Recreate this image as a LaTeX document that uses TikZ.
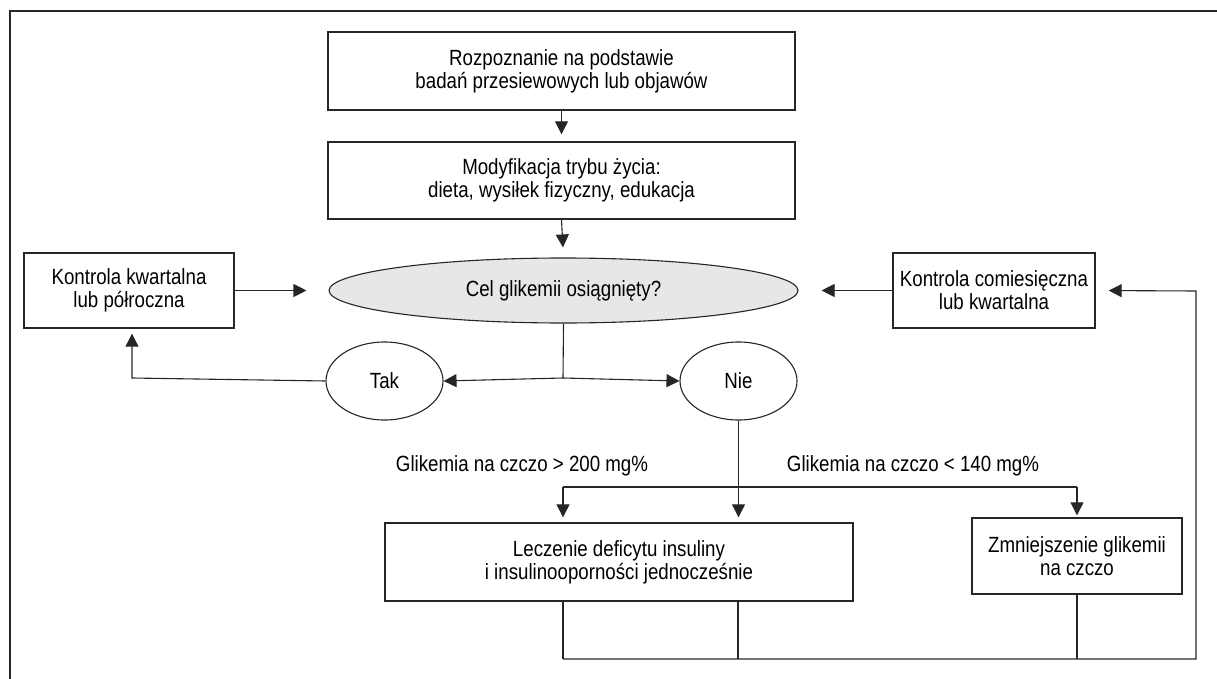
\documentclass[tikz,border=0pt]{standalone}
\usepackage{fontspec}
\setmainfont{Liberation Sans}[FakeStretch=0.85]
\usetikzlibrary{arrows.meta,shapes.geometric}
\definecolor{ln}{HTML}{262626}
\definecolor{ellfill}{HTML}{E6E7E8}
\begin{document}
\begin{tikzpicture}[x=1pt,y=-1pt,
  every node/.style={font=\fontsize{22}{23}\selectfont, text=black, align=center, inner sep=0pt},
  box/.style={draw=ln, line width=1.4pt, rectangle},
  oval/.style={draw=ln, line width=1.1pt, ellipse},
  conn/.style={draw=ln, line width=1.1pt},
  arr/.style={conn, -{Triangle[length=13pt,width=13pt]}},
]
\useasboundingbox (0,0) rectangle (1217,679);
\draw[ln, line width=1.8pt] (10,679) -- (10,11) -- (1217,11);

\node[box, minimum width=467pt, minimum height=78pt] (top) at (561.5,71) {Rozpoznanie na podstawie\\badań przesiewowych lub objawów};
\node[box, minimum width=467pt, minimum height=77pt] (mod) at (561.5,180.5) {Modyfikacja trybu życia:\\dieta, wysiłek fizyczny, edukacja};
\node[oval, fill=ellfill, minimum width=469pt, minimum height=65pt] (cel) at (563.5,290.5) {Cel glikemii osiągnięty?};
\node[box, minimum width=210pt, minimum height=75pt] (kk) at (129,290.5) {Kontrola kwartalna\\lub półroczna};
\node[box, minimum width=202pt, minimum height=75pt] (kc) at (994,290.5) {Kontrola comiesięczna\\lub kwartalna};
\node[oval, minimum width=117pt, minimum height=78pt] (tak) at (384.5,381) {Tak};
\node[oval, minimum width=117pt, minimum height=78pt] (nie) at (738.5,381) {Nie};
\node[box, minimum width=468pt, minimum height=78pt] (lec) at (619,562) {Leczenie deficytu insuliny\\i insulinooporności jednocześnie};
\node[box, minimum width=210pt, minimum height=76pt] (zmn) at (1077,556) {Zmniejszenie glikemii\\na czczo};

\node (l1) at (522,466) {Glikemia na czczo > 200 mg\%};
\node (l2) at (913,466) {Glikemia na czczo < 140 mg\%};

\coordinate (split) at (563,378);
\coordinate (kkc) at (132,378);
\coordinate (br1) at (563,487);
\coordinate (br2) at (1077,487);
\coordinate (b1) at (563,659);
\coordinate (b2) at (738,659);
\coordinate (b3) at (1077,659);
\coordinate (rc) at (1196,659);
\coordinate (rt) at (1196,291);

\draw[arr, shorten >=7pt] (top.south) -- (mod.north);
\draw[arr, shorten >=10pt] (mod.south) -- (cel.north);
\draw[arr, shorten >=22pt] (kk.east) -- (cel.west);
\draw[arr, shorten >=23pt] (kc.west) -- (cel.east);
\draw[conn] (cel.south) -- (split);
\draw[arr] (split) -- (tak.east);
\draw[arr] (split) -- (nie.west);
\draw[arr, shorten >=5pt] (tak.west) -- (kkc) -- (kkc |- kk.south);
\draw[arr, shorten >=5pt] (nie.south) -- (nie.south |- lec.north);
\draw[conn] (br1) -- (br2);
\draw[arr, shorten >=5pt] (br1) -- (br1 |- lec.north);
\draw[arr, shorten >=2pt] (br2) -- (zmn.north);
\draw[conn] (b1 |- lec.south) -- (b1);
\draw[conn] (b2 |- lec.south) -- (b2);
\draw[conn] (zmn.south) -- (b3);
\draw[arr, shorten >=13pt] (b1) -- (rc) -- (rt) -- (kc.east);
\end{tikzpicture}
\end{document}
